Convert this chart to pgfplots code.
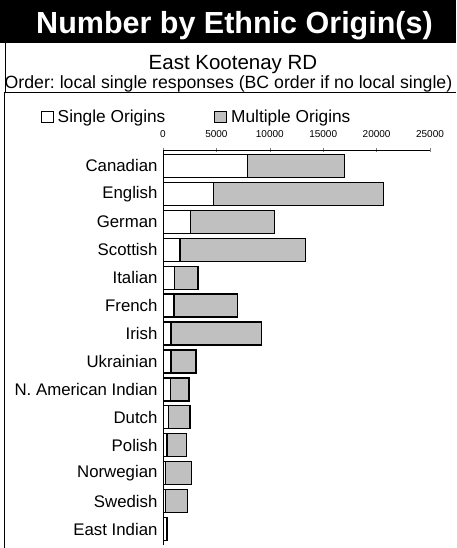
\documentclass[border=0pt]{standalone}
\usepackage{pgfplots}
\usepackage{pgfplotstable}
\pgfplotsset{compat=1.18}
\usepackage{fontspec}
\setmainfont{Liberation Sans}
\frenchspacing
\definecolor{barg}{HTML}{C0C0C0}
\pgfplotstableread{
y single multiple
13 7900 9100
12 4750 15900
11 2550 7900
10 1600 11750
9 1100 2180
8 1030 5960
7 750 8500
6 740 2350
5 690 1750
4 530 2000
3 380 1840
2 250 2400
1 220 2060
0 330 80
}\data
\begin{document}
\begin{tikzpicture}[x=1pt,y=1pt]
\begin{axis}[
  at={(163pt,-150pt)}, anchor=north west, scale only axis,
  width=267pt, height=395pt,
  xbar stacked, bar width=23pt, bar shift=0pt,
  xmin=0, xmax=25000, ymin=-0.57, ymax=13.57,
  axis x line=top, axis y line=left,
  axis line style={-, line width=0.8pt},
  xtick={0,5000,10000,15000,20000,25000},
  scaled x ticks=false,
  /pgf/number format/assume math mode=true,
  /pgf/number format/1000 sep={},
  xticklabel style={font=\fontsize{10}{12}\selectfont, yshift=6.5pt},
  ytick={0,...,13},
  yticklabels={East Indian,Swedish,Norwegian,Polish,Dutch,N. American Indian,Ukrainian,Irish,French,Italian,Scottish,German,English,Canadian},
  yticklabel style={font=\fontsize{16.8}{19}\selectfont},
  y tick style={draw=none},
  x tick style={line width=0.6pt},
  tick align=center, major tick length=4pt,
  legend columns=2,
  legend image code/.code={\draw[#1, line width=0.8pt] (0pt,-5.5pt) rectangle (12pt,5.5pt);},
  legend style={draw=none, fill=none, inner sep=0pt,
    at={(axis description cs:-0.458,1)}, anchor=south west, yshift=24pt,
    font=\fontsize{17.3}{19}\selectfont,
    /tikz/every odd column/.append style={column sep=2pt},
    /tikz/every even column/.append style={column sep=47pt},
    cells={anchor=west}},
]
\addplot[fill=white, draw=black, line width=1.3pt] table[x=single,y=y]{\data};
\addplot[fill=barg, draw=black, line width=1.3pt] table[x=multiple,y=y]{\data};
\legend{Single Origins,Multiple Origins}
\end{axis}
\fill[black] (0,0) rectangle (456,-43.3);
\node[white, font=\bfseries\fontsize{30.5}{32}\selectfont, anchor=base, inner sep=0pt] at (234.5,-34) {Number by Ethnic Origin(s)};
\draw[line width=1pt] (5,-43) -- (5,-92.5);
\draw[line width=1pt] (4,-92.5) -- (456,-92.5);
\draw[line width=1pt] (4,-92.5) -- (4,-548);
\node[anchor=base, font=\fontsize{20.5}{22}\selectfont, inner sep=0pt] at (233,-69.5) {East Kootenay RD};
\node[anchor=base, font=\fontsize{17.7}{20}\selectfont, inner sep=0pt] at (228.5,-89) {Order: local single responses (BC order if no local single)};
\pgfresetboundingbox
\useasboundingbox (0,0) rectangle (456,-548);
\end{tikzpicture}
\end{document}
